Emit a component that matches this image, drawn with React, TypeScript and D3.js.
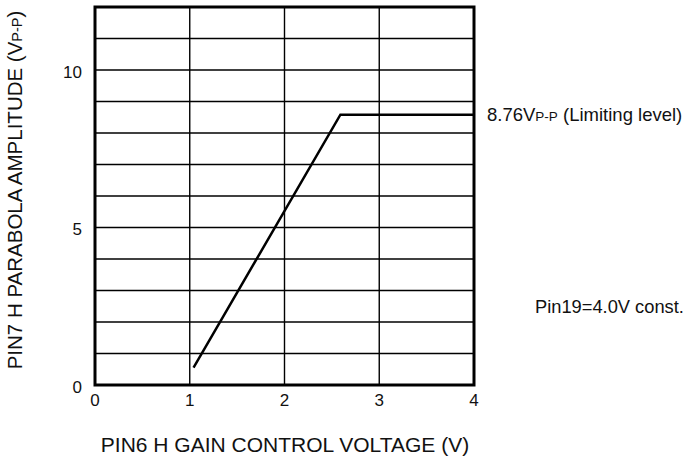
import * as d3 from "d3";
import React from "react";

const xTicks = [0, 1, 2, 3, 4];
const yTickLabels = [0, 5, 10];
const yGrid = d3.range(0, 13);
// line: gain control voltage vs amplitude
const voltage = [1.04, 2.59, 4.0];
const amplitude = [0.55, 8.58, 8.58];

const W = 684;
const H = 461;
const left = 95;
const right = 474;
const top = 7;
const bottom = 385;
const font = "'Liberation Sans', Arial, sans-serif";

const App: React.FC = () => {
  const x = d3.scaleLinear().domain([0, 4]).range([left, right]);
  const y = d3.scaleLinear().domain([0, 12]).range([bottom, top]);
  const line = d3
    .line<number>()
    .x((d) => x(d))
    .y((_, i) => y(amplitude[i]));

  return (
    <svg
      width={W}
      height={H}
      style={{ position: "fixed", left: 0, top: 0, background: "#fff" }}
      fontFamily={font}
      fill="#111"
    >
      {/* grid */}
      {yGrid.map((v) => (
        <line
          key={"h" + v}
          x1={left}
          x2={right}
          y1={y(v)}
          y2={y(v)}
          stroke="#000"
          strokeWidth={1.4}
        />
      ))}
      {xTicks.map((v) => (
        <line
          key={"v" + v}
          x1={x(v)}
          x2={x(v)}
          y1={top}
          y2={bottom}
          stroke="#000"
          strokeWidth={1.4}
        />
      ))}
      <rect
        x={left}
        y={top}
        width={right - left}
        height={bottom - top}
        fill="none"
        stroke="#000"
        strokeWidth={3}
      />
      <path d={line(voltage) || ""} fill="none" stroke="#000" strokeWidth={2.5} />

      {/* tick labels */}
      {xTicks.map((v) => (
        <text key={"xt" + v} x={x(v)} y={406} fontSize={17} textAnchor="middle">
          {v}
        </text>
      ))}
      {yTickLabels.map((v) => (
        <text key={"yt" + v} x={82} y={y(v) + 7.5} fontSize={17} textAnchor="end">
          {v}
        </text>
      ))}

      {/* axis titles */}
      <text x={285} y={452} fontSize={21} textAnchor="middle">
        PIN6 H GAIN CONTROL VOLTAGE (V)
      </text>
      <text
        transform={`translate(22,${190}) rotate(-90)`}
        fontSize={20.5}
        textAnchor="middle"
      >
        PIN7 H PARABOLA AMPLITUDE (V<tspan fontSize={14.5}>P-P</tspan>)
      </text>

      {/* annotations */}
      <text x={487} y={121} fontSize={18.5}>
        8.76V<tspan fontSize={13.5}>P-P</tspan> (Limiting level)
      </text>
      <text x={535} y={313} fontSize={18.3}>
        Pin19=4.0V const.
      </text>
    </svg>
  );
};

export default App;
